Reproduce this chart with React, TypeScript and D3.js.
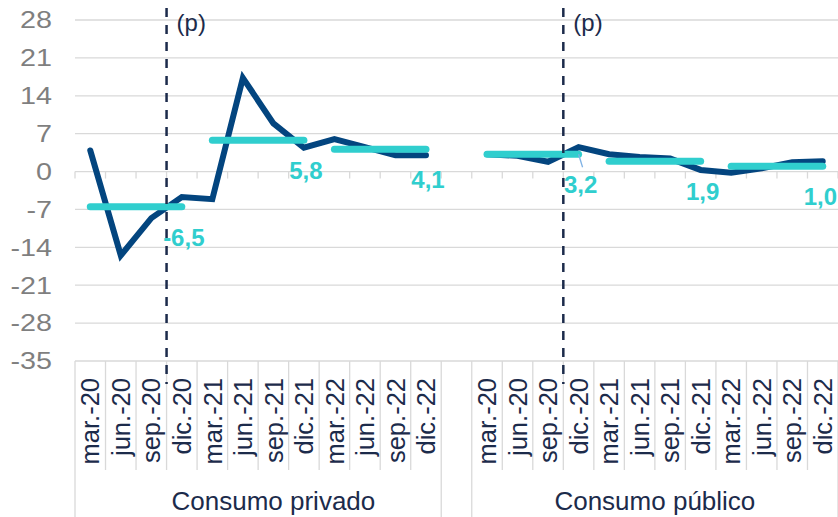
import React, { useRef, useEffect } from 'react';
import { select, scaleBand, scaleLinear, line } from 'd3';

// quarters shown under each group
const categories = ['mar.-20', 'jun.-20', 'sep.-20', 'dic.-20', 'mar.-21', 'jun.-21', 'sep.-21', 'dic.-21', 'mar.-22', 'jun.-22', 'sep.-22', 'dic.-22'];
const groups = ['Consumo privado', 'Consumo público'];

// quarterly growth (%)
const privado = [3.9, -15.5, -8.6, -4.7, -5.1, 17.3, 8.9, 4.4, 6.0, 4.5, 3.0, 3.0];
const publico = [3.2, 2.9, 1.8, 4.5, 3.2, 2.7, 2.4, 0.3, -0.2, 0.6, 1.7, 1.9];

// yearly averages, one per 4 quarters
const privadoMedias = [-6.5, 5.8, 4.1];
const publicoMedias = [3.2, 1.9, 1.0];

const yTicks = [28, 21, 14, 7, 0, -7, -14, -21, -28, -35];
// forecast starts after this quarter
const proyeccionDesde = 'sep.-20';

const W = 838;
const H = 517;
const FONT = '"Liberation Sans", Arial, sans-serif';
const NAVY = '#1c2b4b';
const BLUE = '#03457f';
const TEAL = '#30cece';
const GRID = '#d9d9d9';

const fmt = (v: number) => v.toFixed(1).replace('.', ',');

const App: React.FC = () => {
  const svgRef = useRef<SVGSVGElement>(null);

  useEffect(() => {
    if (!svgRef.current) return;
    const svg = select(svgRef.current);
    svg.selectAll('*').remove();

    const left = 75;
    const right = W;
    const top = 20;
    const bottom = 361;

    const keys = [
      ...categories.map(c => `priv|${c}`),
      'gap',
      ...categories.map(c => `pub|${c}`),
    ];
    const x = scaleBand<string>().domain(keys).range([left, right]).padding(0);
    const bw = x.bandwidth();
    const cx = (k: string) => (x(k) as number) + bw / 2;
    const y = scaleLinear().domain([-35, 28]).range([bottom, top]);

    // gridlines
    svg.append('g')
      .selectAll('line')
      .data(yTicks)
      .join('line')
      .attr('x1', left)
      .attr('x2', right)
      .attr('y1', d => y(d))
      .attr('y2', d => y(d))
      .attr('stroke', GRID)
      .attr('stroke-width', 1.3);

    // the y labels in the original are drawn a bit wide
    svg.append('g')
      .selectAll('text')
      .data(yTicks)
      .join('text')
      .attr('transform', d => `translate(52,${y(d)}) scale(1.25,1)`)
      .attr('dy', '0.36em')
      .attr('text-anchor', 'end')
      .attr('font-family', FONT)
      .attr('font-size', 23)
      .attr('fill', '#7f7f7f')
      .text(d => d);

    // tick marks on the zero line
    const bounds = keys.map(k => x(k) as number).concat(right);
    svg.append('g')
      .selectAll('line')
      .data(bounds)
      .join('line')
      .attr('x1', d => d)
      .attr('x2', d => d)
      .attr('y1', y(0))
      .attr('y2', y(0) + 7)
      .attr('stroke', GRID)
      .attr('stroke-width', 1.3);

    // category separators below the plot
    const groupEdges = [left, x('gap') as number, x(`pub|${categories[0]}`) as number, right];
    svg.append('g')
      .selectAll('line')
      .data(bounds)
      .join('line')
      .attr('x1', d => d)
      .attr('x2', d => d)
      .attr('y1', bottom)
      .attr('y2', d => (groupEdges.some(e => Math.abs(e - d) < 0.5) ? H : 470))
      .attr('stroke', GRID)
      .attr('stroke-width', 1.3);

    svg.append('g')
      .selectAll('text')
      .data(keys.filter(k => k !== 'gap'))
      .join('text')
      .attr('transform', k => `translate(${cx(k)},378) rotate(-90)`)
      .attr('dy', '0.36em')
      .attr('text-anchor', 'end')
      .attr('font-family', FONT)
      .attr('font-size', 25.5)
      .attr('fill', NAVY)
      .text(k => k.split('|')[1]);

    // group labels: privado spans up to the blank slot
    const groupSpans = [[left, groupEdges[2]], [groupEdges[2], right]];
    svg.append('g')
      .selectAll('text')
      .data(groups)
      .join('text')
      .attr('x', (_, i) => (groupSpans[i][0] + groupSpans[i][1]) / 2)
      .attr('y', 510)
      .attr('text-anchor', 'middle')
      .attr('font-family', FONT)
      .attr('font-size', 26)
      .attr('fill', NAVY)
      .text(d => d);

    const series = [
      { prefix: 'priv', values: privado, medias: privadoMedias },
      { prefix: 'pub', values: publico, medias: publicoMedias },
    ];

    const lineGen = line<[string, number]>()
      .x(d => cx(d[0]))
      .y(d => y(d[1]));

    series.forEach(s => {
      const pts: [string, number][] = s.values.map((v, i) => [`${s.prefix}|${categories[i]}`, v]);
      svg.append('path')
        .attr('d', lineGen(pts))
        .attr('fill', 'none')
        .attr('stroke', BLUE)
        .attr('stroke-width', 6)
        .attr('stroke-linejoin', 'miter')
        .attr('stroke-linecap', 'round');
    });

    series.forEach(s => {
      s.medias.forEach((m, j) => {
        const k0 = `${s.prefix}|${categories[j * 4]}`;
        const k1 = `${s.prefix}|${categories[j * 4 + 3]}`;
        svg.append('line')
          .attr('x1', cx(k0))
          .attr('x2', cx(k1))
          .attr('y1', y(m))
          .attr('y2', y(m))
          .attr('stroke', TEAL)
          .attr('stroke-width', 7)
          .attr('stroke-linecap', 'round');

        if (s.prefix === 'pub' && j === 0) {
          // little leader line Excel leaves on this label
          svg.append('line')
            .attr('x1', cx(k1))
            .attr('x2', cx(k1) + 4)
            .attr('y1', y(m))
            .attr('y2', y(m) + 13)
            .attr('stroke', '#7fb2e5')
            .attr('stroke-width', 1.3);
        }

        const t = svg.append('text')
          .attr('x', cx(k1) + 2)
          .attr('y', y(m) + 39)
          .attr('text-anchor', 'middle')
          .attr('font-family', FONT)
          .attr('font-weight', 'bold')
          .attr('font-size', 24)
          .attr('fill', TEAL)
          .text(fmt(m));
        // keep the last label inside the frame
        const tw = (t.node() as SVGTextElement).getComputedTextLength();
        t.attr('x', Math.min(cx(k1) + 2, W - tw / 2 - 1));
      });
    });

    // forecast markers
    const iCut = categories.indexOf(proyeccionDesde);
    ['priv', 'pub'].forEach(p => {
      const xd = (x(`${p}|${categories[iCut + 1]}`) as number);
      svg.append('line')
        .attr('x1', xd)
        .attr('x2', xd)
        .attr('y1', 8)
        .attr('y2', 384)
        .attr('stroke', NAVY)
        .attr('stroke-width', 2.5)
        .attr('stroke-dasharray', '9,8');
      svg.append('text')
        .attr('x', xd + 10)
        .attr('y', 31)
        .attr('font-family', FONT)
        .attr('font-size', 24)
        .attr('fill', NAVY)
        .text('(p)');
    });
  }, []);

  return (
    <div style={{ position: 'absolute', left: 0, top: 0, width: W, height: H, background: '#fff' }}>
      <svg ref={svgRef} width={W} height={H}></svg>
    </div>
  );
};

export default App;
